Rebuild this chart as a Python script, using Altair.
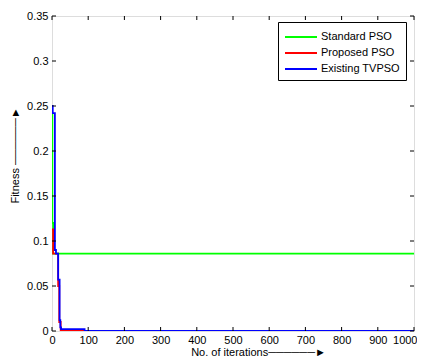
import altair as alt
import pandas as pd

series_names = ["Standard PSO", "Proposed PSO", "Existing TVPSO"]
series_colors = ["#00ff00", "#ff0000", "#0000ff"]

std_iter = [0, 1, 3, 1000]
std_fit = [0.24, 0.12, 0.086, 0.086]

prop_iter = [0, 3, 17, 20, 24, 100, 1000]
prop_fit = [0.113, 0.086, 0.05, 0.01, 0.0, 0.0, 0.0]

exist_iter = [0, 2, 8, 11, 17, 21, 23, 25, 90, 1000]
exist_fit = [0.25, 0.242, 0.09, 0.086, 0.057, 0.012, 0.004, 0.002, 0.0, 0.0]

x_ticks = [0, 100, 200, 300, 400, 500, 600, 700, 800, 900, 1000]
y_ticks = [0, 0.05, 0.1, 0.15, 0.2, 0.25, 0.3, 0.35]

W, H = 362, 315
FONT = "Liberation Sans"

def frame(name, it, fit):
    return pd.DataFrame({"iter": it, "fit": fit, "series": name})

dfs = [frame(series_names[0], std_iter, std_fit),
       frame(series_names[1], prop_iter, prop_fit),
       frame(series_names[2], exist_iter, exist_fit)]

xscale = alt.Scale(domain=[0, 1000], nice=False, zero=False)
yscale = alt.Scale(domain=[0, 0.35], nice=False)
color = alt.Color("series:N",
                  scale=alt.Scale(domain=series_names, range=series_colors),
                  sort=series_names,
                  legend=alt.Legend(title=None, orient="none", legendX=226, legendY=6,
                                    strokeColor="black", fillColor="white", padding=6,
                                    symbolType="M-2,0H2", symbolSize=256, symbolStrokeWidth=2,
                                    symbolOffset=8, labelOffset=11,
                                    labelFontSize=11, labelFont=FONT, labelColor="black",
                                    rowPadding=2, cornerRadius=0))

xaxis = alt.Axis(values=x_ticks, format="d", domain=False, ticks=False, grid=False,
                 labelFont=FONT, labelFontSize=11, labelColor="black", labelPadding=3,
                 labelFlush=True, labelFlushOffset=3, labelOverlap=False,
                 title="No. of iterations──────►", titleFont=FONT, titleFontSize=11,
                 titleFontWeight="normal", titleColor="black",
                 titleX=206, titleY=24, titleBaseline="alphabetic", titleAlign="center")
yaxis = alt.Axis(values=y_ticks, format="~g", domain=False, ticks=False, grid=False,
                 labelFont=FONT, labelFontSize=11, labelColor="black", labelPadding=4,
                 labelFlush=False, labelOverlap=False,
                 title="Fitness ──────►", titleFont=FONT, titleFontSize=11,
                 titleFontWeight="normal", titleColor="black",
                 titleX=-37, titleY=139, titleBaseline="middle", titleAlign="center", titleAngle=270)

layers = []
for i, d in enumerate(dfs):
    enc = dict(x=alt.X("iter:Q", scale=xscale, axis=xaxis),
               y=alt.Y("fit:Q", scale=yscale, axis=yaxis),
               color=color)
    layers.append(alt.Chart(d).mark_line(strokeWidth=1.8, interpolate="step-after", clip=True).encode(**enc))

xt = pd.DataFrame({"v": x_ticks})
yt = pd.DataFrame({"v": y_ticks})
tick_bottom = alt.Chart(xt).mark_rule(color="black", strokeWidth=1).encode(
    x=alt.X("v:Q", scale=xscale, axis=xaxis), y=alt.value(H), y2=alt.value(H - 4))
tick_top = alt.Chart(xt).mark_rule(color="black", strokeWidth=1).encode(
    x=alt.X("v:Q", scale=xscale, axis=xaxis), y=alt.value(0), y2=alt.value(4))
tick_left = alt.Chart(yt).mark_rule(color="black", strokeWidth=1).encode(
    y=alt.Y("v:Q", scale=yscale, axis=yaxis), x=alt.value(0), x2=alt.value(4))
tick_right = alt.Chart(yt).mark_rule(color="black", strokeWidth=1).encode(
    y=alt.Y("v:Q", scale=yscale, axis=yaxis), x=alt.value(W), x2=alt.value(W - 4))

chart = alt.layer(*layers, tick_bottom, tick_top, tick_left, tick_right).properties(
    width=W, height=H,
    autosize=alt.AutoSizeParams(type="none"),
    padding={"left": 44, "top": 8, "right": 3, "bottom": 25},
).configure_view(stroke="black", strokeWidth=1.5).configure(background="white")

chart.save("out.html", embed_options={"renderer": "svg", "actions": False})
